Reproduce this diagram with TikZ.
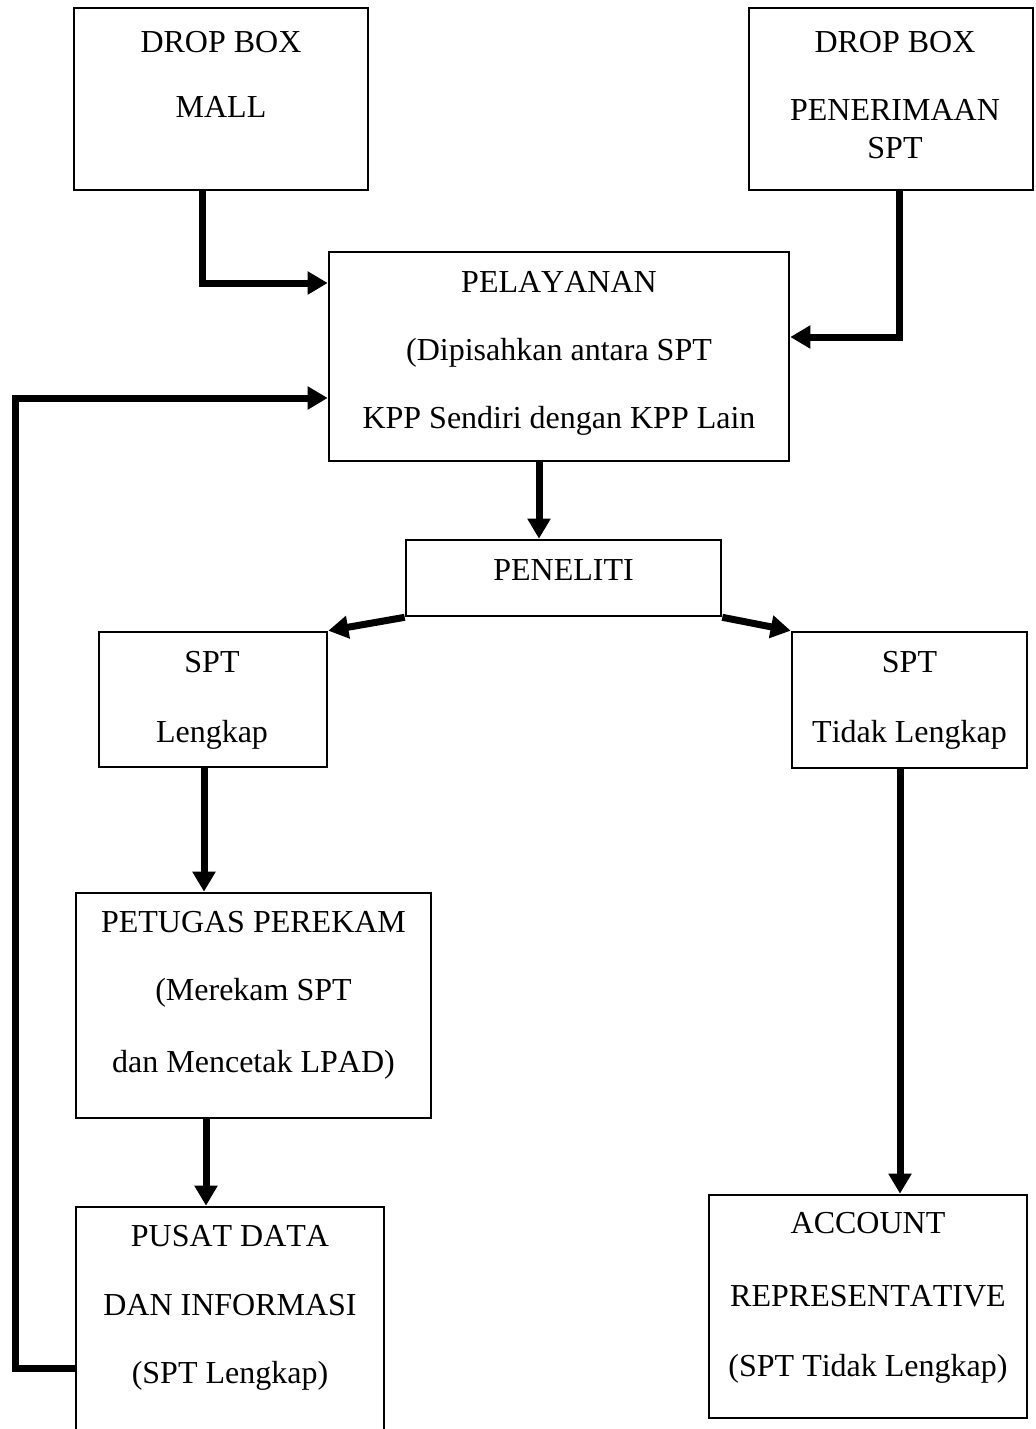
\documentclass[tikz,border=0pt]{standalone}
\usepackage{fontspec}
\setmainfont{Liberation Serif}[Kerning=Off]
\usetikzlibrary{arrows.meta}
\begin{document}
\begin{tikzpicture}[x=0.5pt,y=-0.5pt,
  box/.style={draw, line width=1.3pt, inner sep=0pt},
  txt/.style={inner sep=0pt, anchor=base, font=\fontsize{16}{19}\selectfont},
  arr/.style={line width=3.5pt, -{Triangle[length=10pt,width=11pt]}}]
\useasboundingbox (0,0) rectangle (1036,1429);
% boxes
\node[box, minimum width=147pt, minimum height=91pt] (mall) at (221,99) {};
\node[box, minimum width=142pt, minimum height=91pt] (penb) at (891,99) {};
\node[box, minimum width=230pt, minimum height=104.5pt] (pel) at (559,356.5) {};
\node[box, minimum width=157.5pt, minimum height=38pt] (nel) at (563.5,578) {};
\node[box, minimum width=114pt, minimum height=67.5pt] (lkp) at (213,699.5) {};
\node[box, minimum width=117.5pt, minimum height=68pt] (tlk) at (909.5,700) {};
\node[box, minimum width=177.5pt, minimum height=112.5pt] (ptg) at (253.5,1005.5) {};
\node[box, minimum width=154pt, minimum height=121.5pt] (pus) at (230,1328.5) {};
\node[box, minimum width=159pt, minimum height=111.5pt] (acr) at (868,1306.5) {};
% texts
\node[txt] (mall1) at (221,52.5) {DROP BOX};
\node[txt] (mall2) at (221,117.5) {MALL};
\node[txt] (penb1) at (895,52.5) {DROP BOX};
\node[txt] (penb2) at (895,120.5) {PENERIMAAN};
\node[txt] (penb3) at (895,158.5) {SPT};
\node[txt] (pel1) at (559,292.5) {PELAYANAN};
\node[txt] (pel2) at (559,360.5) {(Dipisahkan antara SPT};
\node[txt] (pel3) at (559,428.5) {KPP Sendiri dengan KPP Lain};
\node[txt] (nel1) at (563.5,580.5) {PENELITI};
\node[txt] (lkp1) at (212,672.5) {SPT};
\node[txt] (lkp2) at (212,742) {Lengkap};
\node[txt] (tlk1) at (909.5,672.5) {SPT};
\node[txt] (tlk2) at (909.5,742) {Tidak Lengkap};
\node[txt] (ptg1) at (253.5,932.5) {PETUGAS PEREKAM};
\node[txt] (ptg2) at (253.5,1000.5) {(Merekam SPT};
\node[txt] (ptg3) at (253.5,1072.5) {dan Mencetak LPAD)};
\node[txt] (pus1) at (230,1246.5) {PUSAT DATA};
\node[txt] (pus2) at (230,1315.5) {DAN INFORMASI};
\node[txt] (pus3) at (230,1383.5) {(SPT Lengkap)};
\node[txt] (acr1) at (868,1233.5) {ACCOUNT};
\node[txt] (acr2) at (868,1306.5) {REPRESENTATIVE};
\node[txt] (acr3) at (868,1376.5) {(SPT Tidak Lengkap)};
% connector bend points
\coordinate (m1) at (202,283);
\coordinate (p1) at (899,337);
\coordinate (l1) at (15,1368);
\coordinate (l2) at (15,398);
\coordinate (c1) at (539,500);
\coordinate (c2) at (204,830);
\coordinate (c3) at (206,1160);
\coordinate (c4) at (900,980);
% connectors
\draw[arr] (m1 |- mall.south) -- (m1) -- (m1 -| pel.west);
\draw[arr] (p1 |- penb.south) -- (p1) -- (p1 -| pel.east);
\draw[arr] (l1 -| pus.west) -- (l1) -- (l2) -- (l2 -| pel.west);
\draw[arr] (c1 |- pel.south) -- (c1 |- nel.north);
\draw[arr] (nel.south west) -- (lkp.north east);
\draw[arr] (nel.south east) -- (tlk.north west);
\draw[arr] (c2 |- lkp.south) -- (c2 |- ptg.north);
\draw[arr] (c3 |- ptg.south) -- (c3 |- pus.north);
\draw[arr] (c4 |- tlk.south) -- (c4 |- acr.north);
\end{tikzpicture}
\end{document}
